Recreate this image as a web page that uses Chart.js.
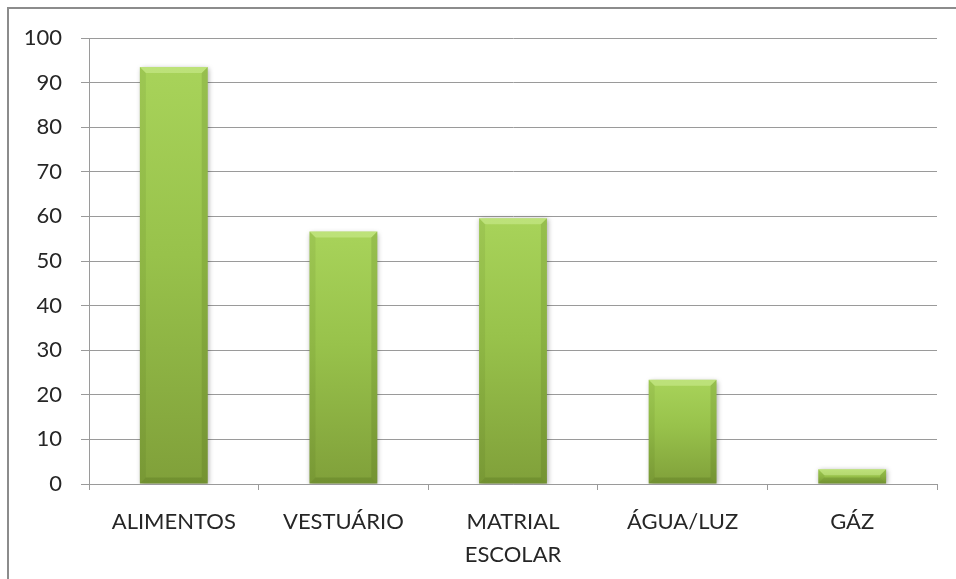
<!DOCTYPE html>
<html>
<head>
<meta charset="utf-8">
<script src="https://cdn.jsdelivr.net/npm/chart.js@4"></script>
<style>
  html, body { margin: 0; padding: 0; background: #fff; }
  #wrap { position: relative; width: 956px; height: 579px; overflow: hidden; }
  #frame { position: absolute; left: 7px; top: 7px; width: 980px; height: 600px;
           border: 2px solid #8c8c8c; box-sizing: border-box; pointer-events: none; }
  canvas { position: absolute; left: 0; top: 0; }
</style>
</head>
<body>
<div id="wrap">
  <canvas id="chart" width="956" height="579"></canvas>
  <div id="frame"></div>
</div>
<script>
// Categories and values (percent)
const categories = ['ALIMENTOS', 'VESTUÁRIO', ['MATRIAL', 'ESCOLAR'], 'ÁGUA/LUZ', 'GÁZ'];
const values = [93.5, 56.6, 59.6, 23.4, 3.3];
const yTicks = [0, 10, 20, 30, 40, 50, 60, 70, 80, 90, 100];

const FONT = { family: 'Lato, "Open Sans", sans-serif', size: 22 };
const TEXT = '#262626';
const GRID = '#9a9a9a';

// Each bar gets its own light-to-dark vertical gradient, spanning the bar's height
function barFill(c) {
  const y = c.chart.scales.y;
  const ctx = c.chart.ctx;
  if (!y || c.raw == null) return '#9bc84e';
  const top = y.getPixelForValue(c.raw);
  const base = y.getPixelForValue(0);
  if (!isFinite(top) || !isFinite(base) || base - top < 1) return '#9bc84e';
  const g = ctx.createLinearGradient(0, top, 0, base);
  g.addColorStop(0, '#a8d35a');
  g.addColorStop(0.45, '#98c24b');
  g.addColorStop(1, '#80a03a');
  return g;
}

// Soft shadow behind the bars and bevelled edges on top of them
const barStyle = {
  id: 'barStyle',
  beforeDatasetsDraw(chart) {
    const ctx = chart.ctx;
    ctx.save();
    ctx.shadowColor = 'rgba(0,0,0,0.35)';
    ctx.shadowBlur = 5;
    ctx.shadowOffsetX = 1;
    ctx.shadowOffsetY = 1;
  },
  afterDatasetsDraw(chart) {
    const ctx = chart.ctx;
    ctx.restore();
    chart.getDatasetMeta(0).data.forEach(el => {
      const l = el.x - el.width / 2, r = el.x + el.width / 2;
      const t = el.y, b = el.base;
      const h = b - t;
      const s = Math.min(6, h / 2);
      const poly = (pts, fill) => {
        ctx.beginPath();
        ctx.moveTo(pts[0][0], pts[0][1]);
        for (let i = 1; i < pts.length; i++) ctx.lineTo(pts[i][0], pts[i][1]);
        ctx.closePath();
        ctx.fillStyle = fill;
        ctx.fill();
      };
      ctx.save();
      poly([[l, t], [r, t], [r - s, t + s], [l + s, t + s]], 'rgba(230,255,180,0.35)');
      poly([[l, b], [r, b], [r - s, b - s], [l + s, b - s]], 'rgba(40,60,0,0.16)');
      poly([[l, t], [l + s, t + s], [l + s, b - s], [l, b]], 'rgba(40,60,0,0.08)');
      poly([[r, t], [r - s, t + s], [r - s, b - s], [r, b]], 'rgba(40,60,0,0.13)');
      ctx.restore();
    });
  }
};

new Chart(document.getElementById('chart'), {
  type: 'bar',
  data: {
    labels: categories,
    datasets: [{
      data: values,
      backgroundColor: barFill,
      borderWidth: 0,
      barPercentage: 0.4,
      categoryPercentage: 1.0
    }]
  },
  options: {
    responsive: false,
    animation: false,
    events: [],
    layout: { padding: { left: 14, right: 19, top: 38, bottom: 0 } },
    plugins: { legend: { display: false }, tooltip: { enabled: false } },
    scales: {
      x: {
        offset: true,
        grid: { offset: true, drawOnChartArea: false, color: GRID, tickLength: 6, tickColor: GRID },
        border: { color: GRID, width: 1 },
        ticks: { color: TEXT, font: { ...FONT, lineHeight: 1.5 }, padding: 15, maxRotation: 0, autoSkip: false },
        afterFit(scale) { scale.height = 95; }
      },
      y: {
        min: 0,
        max: 100,
        afterBuildTicks(scale) { scale.ticks = yTicks.map(v => ({ value: v })); },
        grid: { color: GRID, tickLength: 8, tickColor: GRID },
        border: { color: GRID, width: 1 },
        ticks: { color: TEXT, font: FONT, padding: 19 },
        afterFit(scale) { scale.width = 75; }
      }
    }
  },
  plugins: [barStyle]
});
</script>
</body>
</html>
